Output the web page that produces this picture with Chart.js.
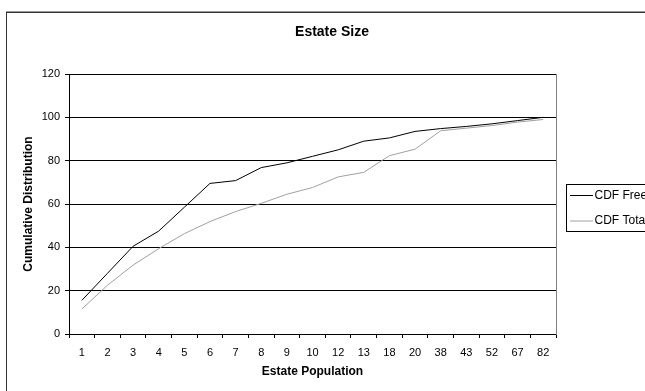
<!DOCTYPE html>
<html>
<head>
<meta charset="utf-8">
<script src="https://cdn.jsdelivr.net/npm/chart.js@4.4.0/dist/chart.umd.min.js"></script>
<style>
  html, body { margin: 0; padding: 0; background: #fff; overflow: hidden; width: 645px; height: 391px; }
  #c { position: absolute; left: 0; top: 0; }
</style>
</head>
<body>
<canvas id="c" width="664" height="400" style="width:664px;height:400px"></canvas>
<script>
const categories = ['1','2','3','4','5','6','7','8','9','10','12','13','18','20','38','43','52','67','82'];
const cdfFree  = [15.5, 28, 40.5, 47.5, 58.5, 69.5, 70.8, 76.8, 79, 82, 85, 89, 90.5, 93.5, 94.8, 95.8, 97, 98.5, 100];
const cdfTotal = [11.5, 22.5, 31.8, 39.4, 46.3, 51.9, 56.5, 60.3, 64.5, 67.6, 72.5, 74.6, 82.3, 85.3, 93.8, 95, 96.2, 97.8, 99];
const yTicks = [0, 20, 40, 60, 80, 100, 120];
const seriesNames = ['CDF Free', 'CDF Total'];

const FONT = "'Liberation Sans', Arial, sans-serif";

const decorPlugin = {
  id: 'decor',
  beforeDraw(chart) {
    const ctx = chart.ctx;
    ctx.save();
    ctx.strokeStyle = '#333';
    ctx.lineWidth = 1;
    ctx.strokeRect(6.5, 12.5, 651, 385);
    ctx.beginPath();
    ctx.moveTo(6, 12); ctx.lineTo(660, 12);
    ctx.stroke();
    ctx.restore();
  },
  afterDraw(chart) {
    const ctx = chart.ctx;
    ctx.save();
    ctx.fillStyle = '#fff';
    ctx.fillRect(566.5, 184.5, 88, 47);
    ctx.strokeStyle = '#000';
    ctx.lineWidth = 1;
    ctx.strokeRect(566.5, 184.5, 88, 47);
    ctx.font = '12px ' + FONT;
    ctx.textBaseline = 'middle';
    ctx.textAlign = 'left';
    chart.data.datasets.forEach((ds, i) => {
      const y = 195.5 + i * 25.5;
      ctx.strokeStyle = ds.borderColor;
      ctx.beginPath();
      ctx.moveTo(570, y); ctx.lineTo(593, y);
      ctx.stroke();
      ctx.fillStyle = '#000';
      ctx.fillText(ds.label, 594.5, y);
    });
    ctx.restore();
  }
};

new Chart(document.getElementById('c'), {
  type: 'line',
  data: {
    labels: categories,
    datasets: [
      { label: seriesNames[0], data: cdfFree, borderColor: '#000000', borderWidth: 1, pointRadius: 0, tension: 0, fill: false },
      { label: seriesNames[1], data: cdfTotal, borderColor: '#a0a0a0', borderWidth: 1, pointRadius: 0, tension: 0, fill: false }
    ]
  },
  options: {
    responsive: false,
    animation: false,
    devicePixelRatio: 1,
    layout: { padding: { left: 0, right: 0, top: 0, bottom: 16 } },
    plugins: {
      legend: { display: false },
      tooltip: { enabled: false },
      title: {
        display: true,
        text: 'Estate Size',
        color: '#000',
        font: { family: FONT, size: 14, weight: 'bold' },
        padding: { top: 23.6, bottom: 33.6 }
      }
    },
    scales: {
      x: {
        type: 'category',
        offset: true,
        grid: { display: true, drawOnChartArea: false, drawTicks: true, tickLength: 4, offset: true, color: '#000', lineWidth: 1 },
        border: { display: true, color: '#000', width: 1 },
        ticks: { color: '#000', font: { family: FONT, size: 11 }, padding: 8, autoSkip: false, maxRotation: 0, minRotation: 0 },
        title: { display: true, text: 'Estate Population', color: '#000', font: { family: FONT, size: 12, weight: 'bold' }, padding: { top: 0, bottom: 4.8 } },
        afterFit(scale) { scale.height = 50; }
      },
      y: {
        position: 'left',
        min: 0,
        max: 120,
        afterBuildTicks(scale) { scale.ticks = yTicks.map(v => ({ value: v })); },
        grid: { display: true, drawOnChartArea: true, drawTicks: true, tickLength: 4, color: '#000', lineWidth: 1 },
        border: { display: true, color: '#000', width: 1 },
        ticks: { color: '#000', font: { family: FONT, size: 11 }, padding: 5 },
        title: { display: true, text: 'Cumulative Distribution', color: '#000', font: { family: FONT, size: 12, weight: 'bold' }, padding: { top: 21.8, bottom: 0 } },
        afterFit(scale) { scale.width = 69; }
      },
      y2: {
        position: 'right',
        display: true,
        grid: { display: false },
        border: { display: true, color: '#808080', width: 1 },
        ticks: { display: false },
        afterFit(scale) { scale.width = 108; }
      }
    }
  },
  plugins: [decorPlugin]
});
</script>
</body>
</html>
